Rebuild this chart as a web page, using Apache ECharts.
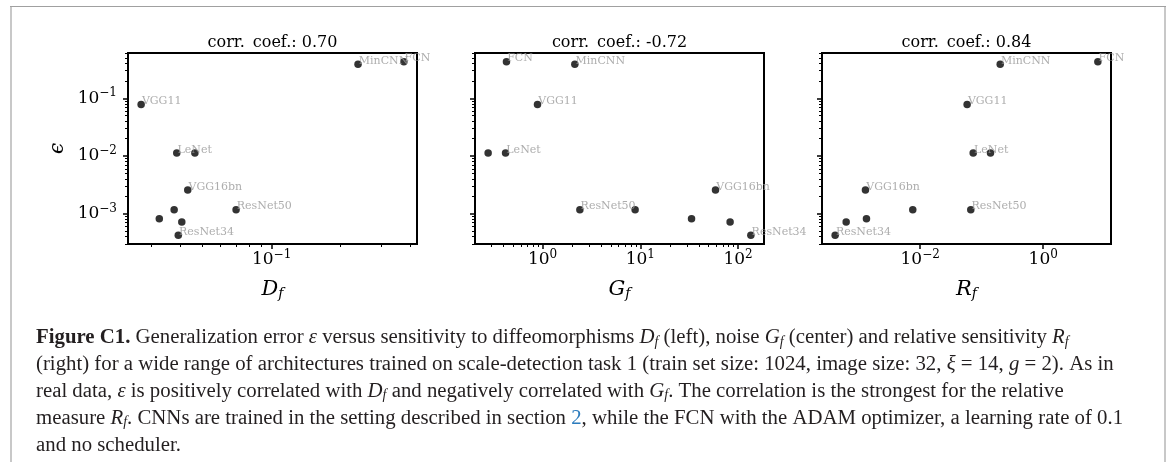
<!DOCTYPE html>
<html><head><meta charset="utf-8">
<script src="https://cdn.jsdelivr.net/npm/echarts@6/dist/echarts.min.js"></script>
<style>html,body{margin:0;padding:0;background:#fff}#c{width:1170px;height:462px}</style>
</head><body><div id="c"></div>
<script>
// ---- data ----
const models  = ['FCN','MinCNN','VGG11','LeNet','','VGG16bn','ResNet50','','','','ResNet34'];
const epsilon = [0.43, 0.39, 0.078, 0.0113, 0.0113, 0.00258, 0.00117, 0.00117, 0.00082, 0.00072, 0.000423];
const Df      = [0.377, 0.238, 0.0270, 0.0386, 0.0463, 0.0431, 0.070, 0.0376, 0.0324, 0.0406, 0.0392];
const Gf      = [0.428, 2.14, 0.889, 0.419, 0.278, 58.7, 2.41, 8.85, 33.4, 82.8, 135];
const Rf      = [7.73, 0.20, 0.058, 0.0728, 0.139, 0.00129, 0.0665, 0.00758, 0.00134, 0.000627, 0.000415];
const corrCoefs = ['0.70', '-0.72', '0.84'];
const xLetters  = ['D', 'G', 'R'];
const xMajorTicks = [[0.1], [1, 10, 100], [0.01, 1]];
const yMajorTicks = [0.001, 0.01, 0.1];
const xHasMinor = [true, true, false];
const captionLines = [
  '{b|Figure C1.} Generalization error {i|\u03b5} versus sensitivity to diffeomorphisms {i|D}{s|f} (left), noise {i|G}{s|f} (center) and relative sensitivity {i|R}{s|f}',
  '(right) for a wide range of architectures trained on scale-detection task 1 (train set size: 1024, image size: 32, {i|\u03be} = 14, {i|g} = 2). As in',
  'real data, {i|\u03b5} is positively correlated with {i|D}{s|f} and negatively correlated with {i|G}{s|f}. The correlation is the strongest for the relative',
  'measure {i|R}{s|f}. CNNs are trained in the setting described in section {a|2}, while the FCN with the ADAM optimizer, a learning rate of 0.1',
  'and no scheduler.'
];

// ---- helpers ----
function logRange(arr) {
  const l = arr.map(Math.log10);
  const mn = Math.min(...l), mx = Math.max(...l), m = (mx - mn) * 0.05;
  return [Math.pow(10, mn - m), Math.pow(10, mx + m)];
}
function minorTicks(r) {
  const out = [];
  for (let e = Math.floor(Math.log10(r[0])); e <= Math.ceil(Math.log10(r[1])); e++)
    for (let k = 2; k <= 9; k++) {
      const v = parseFloat((k * Math.pow(10, e)).toPrecision(6));
      if (v >= r[0] && v <= r[1]) out.push(v);
    }
  return out;
}
function powLabel(v) {
  const e = Math.round(Math.log10(v));
  return '{n|10}{p|' + (e < 0 ? '\u2212' + (-e) : e) + '}';
}
const SERIF = 'DejaVu Serif';
const tickRich = {
  n: {fontFamily: SERIF, fontSize: 17, color: '#000'},
  p: {fontFamily: SERIF, fontSize: 12, color: '#000', padding: [0, 0, 10, 0]}
};

const xs = [Df, Gf, Rf];
const lefts = [128, 475, 822];
const TOP = 53, W = 289, H = 191;
const yR = logRange(epsilon);

const grid = [], xAxis = [], yAxis = [], series = [], graphic = [];
for (let p = 0; p < 3; p++) {
  grid.push({left: lefts[p], top: TOP, width: W, height: H, show: true,
    borderColor: '#000', borderWidth: 2, backgroundColor: 'transparent'});
  const xR = logRange(xs[p]);
  xAxis.push({
    type: 'log', gridIndex: p, min: xR[0], max: xR[1], position: 'bottom',
    axisLine: {show: false}, splitLine: {show: false},
    axisTick: {show: true, length: 5, customValues: xMajorTicks[p], lineStyle: {color: '#000', width: 1.5}},
    axisLabel: {show: true, margin: 5, customValues: xMajorTicks[p], formatter: powLabel, rich: tickRich},
    name: '{i|' + xLetters[p] + '}{s|f}', nameLocation: 'middle', nameGap: 34,
    nameTextStyle: {rich: {
      i: {fontFamily: SERIF, fontStyle: 'italic', fontSize: 21, color: '#000'},
      s: {fontFamily: SERIF, fontStyle: 'italic', fontSize: 14, color: '#000', padding: [9, 0, 0, 0]}
    }}
  });
  yAxis.push({
    type: 'log', gridIndex: p, min: yR[0], max: yR[1], position: 'left',
    axisLine: {show: false}, splitLine: {show: false},
    axisTick: {show: true, length: 5, customValues: yMajorTicks, lineStyle: {color: '#000', width: 1.5}},
    axisLabel: {show: p === 0, margin: 11, customValues: yMajorTicks, formatter: powLabel, rich: tickRich},
    name: p === 0 ? '\u03f5' : '', nameLocation: 'middle', nameGap: 60,
    nameTextStyle: {fontFamily: SERIF, fontStyle: 'italic', fontSize: 20, color: '#000'}
  });
  series.push({
    type: 'scatter', xAxisIndex: p, yAxisIndex: p, symbolSize: 7.5,
    itemStyle: {color: '#000'},
    data: xs[p].map((v, i) => ({value: [v, epsilon[i]], name: models[i]})),
    label: {show: true, formatter: '{b}', position: [4.5, 0.5], align: 'left', verticalAlign: 'middle',
      fontFamily: SERIF, fontSize: 11, color: '#999'},
    emphasis: {disabled: true}, animation: false
  });
  graphic.push({type: 'text', x: lefts[p] + W / 2, y: 43, silent: true,
    style: {text: 'corr.\u2002coef.: ' + corrCoefs[p], align: 'center', verticalAlign: 'middle',
      fontFamily: SERIF, fontSize: 16, fill: '#000'}});
}
// minor tick axes
for (let p = 0; p < 3; p++) {
  const xR = logRange(xs[p]);
  xAxis.push({
    type: 'log', gridIndex: p, min: xR[0], max: xR[1], position: 'bottom', show: xHasMinor[p],
    axisLine: {show: false}, splitLine: {show: false}, axisLabel: {show: false},
    axisTick: {show: true, length: 3, customValues: minorTicks(xR), lineStyle: {color: '#000', width: 1}}
  });
  yAxis.push({
    type: 'log', gridIndex: p, min: yR[0], max: yR[1], position: 'left',
    axisLine: {show: false}, splitLine: {show: false}, axisLabel: {show: false},
    axisTick: {show: true, length: 3, customValues: minorTicks(yR), lineStyle: {color: '#000', width: 1}}
  });
}
// frame
graphic.push({type: 'line', silent: true, shape: {x1: 11, y1: 7, x2: 11, y2: 462}, style: {stroke: '#c8c8c8', lineWidth: 2}});
graphic.push({type: 'line', silent: true, shape: {x1: 1165, y1: 7, x2: 1165, y2: 462}, style: {stroke: '#c8c8c8', lineWidth: 2}});
graphic.push({type: 'line', silent: true, shape: {x1: 10, y1: 6.5, x2: 1166, y2: 6.5}, style: {stroke: '#a0a0a0', lineWidth: 1}});
// caption
const CF = 'Liberation Serif', CS = 20.8, CC = '#231f20';
const capRich = {
  b: {fontWeight: 'bold', fontFamily: CF, fontSize: CS, fill: CC},
  i: {fontStyle: 'italic', fontFamily: CF, fontSize: CS, fill: CC},
  s: {fontStyle: 'italic', fontFamily: CF, fontSize: 14, fill: CC, padding: [8, 0, 0, 0]},
  a: {fontFamily: CF, fontSize: CS, fill: '#2b7bbd'}
};
captionLines.forEach((t, k) => {
  graphic.push({type: 'text', x: 36, y: 338 + k * 26.9, silent: true,
    style: {text: t, rich: capRich, align: 'left', verticalAlign: 'middle',
      fontFamily: CF, fontSize: CS, fill: CC}});
});

const chart = echarts.init(document.getElementById('c'), null, {renderer: 'canvas'});
chart.setOption({animation: false, backgroundColor: '#fff', grid, xAxis, yAxis, series, graphic});
</script></body></html>
